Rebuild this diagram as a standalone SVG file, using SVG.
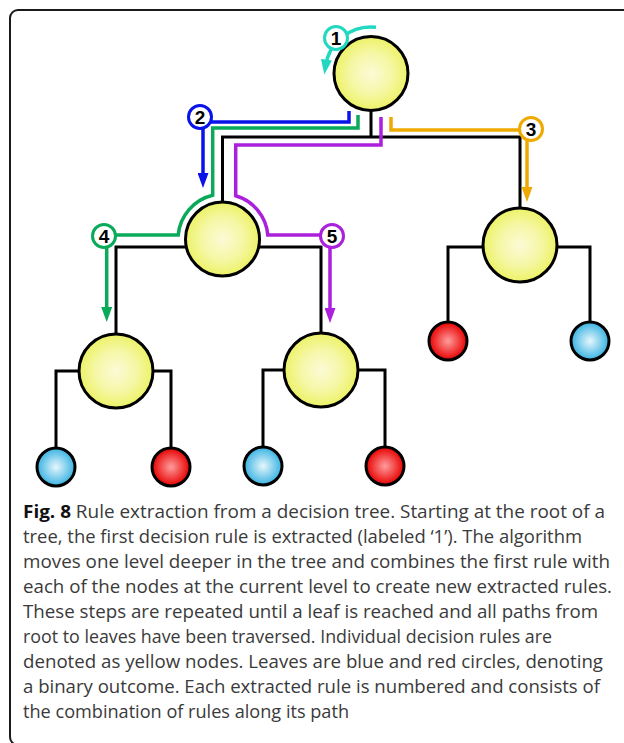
<svg xmlns="http://www.w3.org/2000/svg" width="624" height="743" viewBox="0 0 624 743">
<defs>
<radialGradient id="gy" cx="50%" cy="50%" r="50%">
<stop offset="0" stop-color="#fcfad6"/><stop offset="0.55" stop-color="#f6f7a6"/><stop offset="1" stop-color="#ecf266"/>
</radialGradient>
<radialGradient id="gb" cx="50%" cy="50%" r="50%">
<stop offset="0" stop-color="#e6f7fc"/><stop offset="1" stop-color="#38b2e2"/>
</radialGradient>
<radialGradient id="gr" cx="50%" cy="50%" r="50%">
<stop offset="0" stop-color="#ff9c9c"/><stop offset="1" stop-color="#e80000"/>
</radialGradient>
<marker id="a1" markerUnits="userSpaceOnUse" markerWidth="15" markerHeight="11" refX="7" refY="5.5" orient="auto"><path d="M0,0 L15,5.5 L0,11 z" fill="#22d8c0"/></marker>
<marker id="a2" markerUnits="userSpaceOnUse" markerWidth="15" markerHeight="11" refX="7" refY="5.5" orient="auto"><path d="M0,0 L15,5.5 L0,11 z" fill="#0a14e8"/></marker>
<marker id="a3" markerUnits="userSpaceOnUse" markerWidth="15" markerHeight="11" refX="7" refY="5.5" orient="auto"><path d="M0,0 L15,5.5 L0,11 z" fill="#eeaa00"/></marker>
<marker id="a4" markerUnits="userSpaceOnUse" markerWidth="15" markerHeight="11" refX="7" refY="5.5" orient="auto"><path d="M0,0 L15,5.5 L0,11 z" fill="#0aaa5a"/></marker>
<marker id="a5" markerUnits="userSpaceOnUse" markerWidth="15" markerHeight="11" refX="7" refY="5.5" orient="auto"><path d="M0,0 L15,5.5 L0,11 z" fill="#aa20dc"/></marker>
</defs>
<style>
.frame{fill:none;stroke:#1a1a1a;stroke-width:2}
.edge{fill:none;stroke:#000;stroke-width:3}
.rule{fill:url(#gy);stroke:#000;stroke-width:3}
.leafb{fill:url(#gb);stroke:#000;stroke-width:3}
.leafr{fill:url(#gr);stroke:#000;stroke-width:3}
.p{fill:none;stroke-width:3.5}
.lab{fill:#fff;stroke-width:3}
.num{font-family:"Liberation Sans",Arial,sans-serif;font-weight:bold;font-size:19px;fill:#000;text-anchor:middle}
.cap{font-family:"Open Sans","Noto Sans",sans-serif;font-size:17.5px;fill:#3a3a3a}
</style>
<rect class="frame" x="10" y="10" width="700" height="735" rx="8"/>
<g id="connectors">
<path class="edge" d="M371,110 V137 M222.5,202 V137 H520 V208"/>
<path class="edge" d="M116,334 V247 H321 V333"/>
<path class="edge" d="M56,448 V371 H171 V448"/>
<path class="edge" d="M263,447 V370 H385 V447"/>
<path class="edge" d="M448,322 V247 H590 V322"/>
<path class="p" stroke="#22d8c0" d="M376,27.3 A46,46 0 0 0 325.45,66.6" marker-end="url(#a1)"/>
<path class="p" stroke="#0a14e8" d="M349,111 V122 H203 V180" marker-end="url(#a2)"/>
<path class="p" stroke="#0aaa5a" d="M358,115 V128 H212.7 V195.2 A45,45 0 0 0 178.2,235 H106.7 V314" marker-end="url(#a4)"/>
<path class="p" stroke="#aa20dc" d="M381,117 V145 H235.7 V195.8 A45,45 0 0 1 267.8,235 H330 V315" marker-end="url(#a5)"/>
<path class="p" stroke="#eeaa00" d="M391,117 V130 H527 V194" marker-end="url(#a3)"/>
</g>
<g id="root"><circle class="rule" cx="371" cy="73.5" r="37"/></g>
<g id="n-left"><circle class="rule" cx="222.5" cy="239" r="37"/></g>
<g id="n-right"><circle class="rule" cx="520" cy="245" r="37"/></g>
<g id="n-ll"><circle class="rule" cx="116" cy="371" r="37"/></g>
<g id="n-lr"><circle class="rule" cx="321" cy="370" r="37"/></g>
<g id="leaf1"><circle class="leafb" cx="56" cy="467" r="19"/></g>
<g id="leaf2"><circle class="leafr" cx="171" cy="467" r="19"/></g>
<g id="leaf3"><circle class="leafb" cx="263" cy="466" r="19"/></g>
<g id="leaf4"><circle class="leafr" cx="385" cy="466" r="19"/></g>
<g id="leaf5"><circle class="leafr" cx="448" cy="341" r="19"/></g>
<g id="leaf6"><circle class="leafb" cx="590" cy="341" r="19"/></g>
<g id="label1"><circle class="lab" stroke="#22d8c0" cx="336" cy="38" r="11.5"/><text class="num" x="336" y="45">1</text></g>
<g id="label2"><circle class="lab" stroke="#0a14e8" cx="200" cy="117" r="11.5"/><text class="num" x="200" y="124">2</text></g>
<g id="label3"><circle class="lab" stroke="#eeaa00" cx="531" cy="129" r="11.5"/><text class="num" x="531" y="136">3</text></g>
<g id="label4"><circle class="lab" stroke="#0aaa5a" cx="104" cy="236" r="11.5"/><text class="num" x="104" y="243">4</text></g>
<g id="label5"><circle class="lab" stroke="#aa20dc" cx="332" cy="236" r="11.5"/><text class="num" x="332" y="243">5</text></g>
<g id="caption" class="cap">
<text x="23" y="518" textLength="582" lengthAdjust="spacingAndGlyphs"><tspan font-weight="bold" fill="#111">Fig. 8</tspan> Rule extraction from a decision tree. Starting at the root of a</text>
<text x="23" y="543" textLength="559" lengthAdjust="spacingAndGlyphs">tree, the first decision rule is extracted (labeled ‘1’). The algorithm</text>
<text x="23" y="568" textLength="587" lengthAdjust="spacingAndGlyphs">moves one level deeper in the tree and combines the first rule with</text>
<text x="23" y="593" textLength="589" lengthAdjust="spacingAndGlyphs">each of the nodes at the current level to create new extracted rules.</text>
<text x="23" y="618" textLength="575" lengthAdjust="spacingAndGlyphs">These steps are repeated until a leaf is reached and all paths from</text>
<text x="23" y="643" textLength="529" lengthAdjust="spacingAndGlyphs">root to leaves have been traversed. Individual decision rules are</text>
<text x="23" y="668" textLength="580" lengthAdjust="spacingAndGlyphs">denoted as yellow nodes. Leaves are blue and red circles, denoting</text>
<text x="23" y="693" textLength="577" lengthAdjust="spacingAndGlyphs">a binary outcome. Each extracted rule is numbered and consists of</text>
<text x="23" y="718" textLength="326" lengthAdjust="spacingAndGlyphs">the combination of rules along its path</text>
</g>
</svg>
